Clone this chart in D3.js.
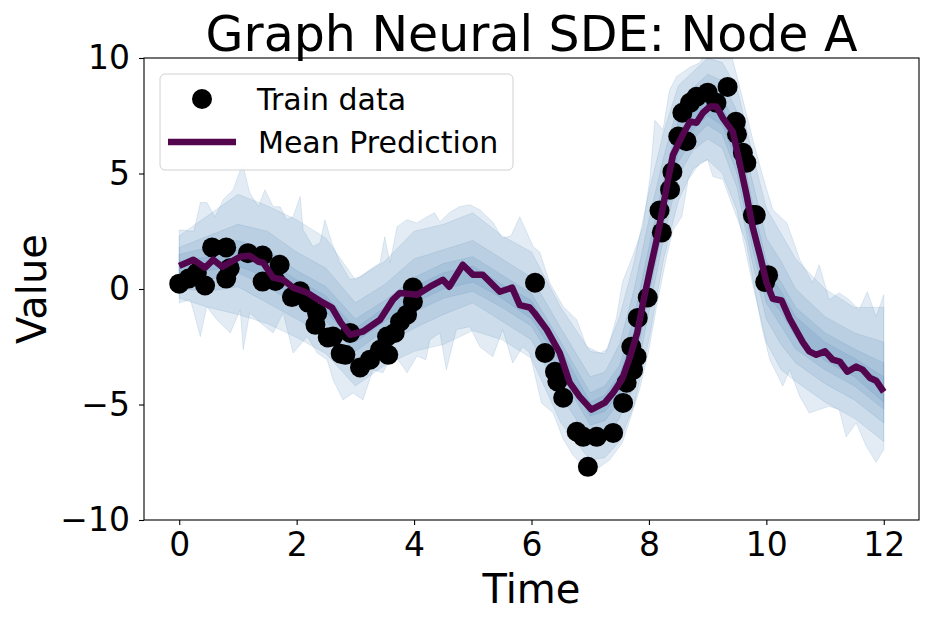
<!DOCTYPE html>
<html lang="en">
<head>
<meta charset="utf-8">
<title>Graph Neural SDE: Node A</title>
<script src="https://cdn.jsdelivr.net/npm/d3@7/dist/d3.min.js"></script>
<style>
  html, body { margin: 0; padding: 0; background: #fff; }
  #chart { width: 928px; height: 621px; }
  text { font-family: "DejaVu Sans", sans-serif; fill: #000; }
</style>
</head>
<body>
<div id="chart"></div>
<script>
// train observations (time, value)
var trainT = [0.0, 0.16, 0.3, 0.44, 0.56, 0.8, 0.8, 0.86, 1.17, 1.42, 1.42, 1.64, 1.71,
  1.92, 2.06, 2.2, 2.35, 2.32, 2.53, 2.62, 2.75, 2.83, 2.91, 3.08, 3.25, 3.42, 3.54, 3.56,
  3.67, 3.76, 3.88, 3.98, 3.98,
  6.06, 6.23, 6.4, 6.44, 6.54, 6.77, 6.88, 6.96, 7.11, 7.39, 7.56, 7.62, 7.7, 7.73, 7.79,
  7.81, 7.98,
  8.18, 8.22, 8.36, 8.4, 8.5, 8.57, 8.64, 8.7, 8.81, 9.0, 9.15, 9.34, 9.48, 9.5, 9.6, 9.66,
  9.77, 9.82, 9.98, 10.03];
var trainV = [0.23, 0.45, 0.7, 0.15, 1.8, 1.8, 0.45, 0.9, 1.55, 1.45, 0.32, 0.35, 1.05,
  -0.35, -0.1, -0.6, -1.05, -1.55, -2.1, -2.06, -2.8, -2.85, -1.9, -3.4, -3.06, -2.63, -2.06, -2.85,
  -1.9, -1.42, -1.11, -0.55, 0.06,
  0.27, -2.77, -3.58, -4.0, -4.71, -6.18, -6.4, -7.7, -6.4, -6.23, -4.93, -4.06, -2.5, -3.5, -2.93,
  -1.25, -0.37,
  3.4, 2.45, 4.3, 5.07, 6.6, 7.63, 6.4, 8.06, 8.32, 8.5, 8.06, 8.75, 7.24, 6.7, 5.9, 5.46,
  3.2, 3.2, 0.3, 0.6];

// mean prediction
var meanT = [0.0, 0.24, 0.44, 0.58, 0.73, 1.04, 1.2, 1.35, 1.43, 1.6, 1.77, 1.94, 2.18, 2.45,
  2.6, 2.75, 2.91, 3.13, 3.42, 3.64, 3.76, 4.05, 4.27, 4.49, 4.6, 4.83, 5.0, 5.17, 5.46, 5.67,
  5.8, 5.97, 6.05, 6.26, 6.48, 6.65, 6.82, 7.02, 7.25, 7.39, 7.54, 7.68, 7.8, 7.9, 8.02, 8.13,
  8.24, 8.33, 8.41, 8.56, 8.7, 8.81, 8.92, 9.04, 9.15, 9.26, 9.43, 9.55, 9.66, 9.77, 9.89,
  10.0, 10.11, 10.26, 10.4, 10.62, 10.73, 10.85, 11.0, 11.13, 11.25, 11.38, 11.53, 11.64,
  11.76, 11.87, 12.0];
var meanV = [1.0, 1.27, 0.92, 1.27, 0.96, 1.4, 1.44, 1.18, 1.14, 0.49, 0.4, 0.06, -0.16, -0.59,
  -0.8, -1.45, -1.98, -1.84, -1.33, -0.46, -0.17, -0.25, 0.1, 0.4, 0.1, 1.05, 0.62, 0.62, -0.12, 0.06,
  -0.7, -0.8, -1.04, -1.76, -2.76, -4.05, -4.66, -5.22, -4.92, -4.49, -3.92, -2.93, -1.9, -0.6, 0.84, 2.1,
  3.56, 4.8, 5.8, 6.6, 7.25, 7.2, 7.63, 7.9, 7.9, 7.4, 6.8, 5.4, 4.1, 2.65, 1.48,
  0.3, -0.42, -0.5, -1.3, -2.3, -2.7, -2.85, -2.7, -3.06, -3.14, -3.58, -3.36, -3.49,
  -3.84, -3.97, -4.45];

// outermost quantile band, upper and lower edges
var outerUpT = [0, 0.25, 0.36, 0.47, 0.61, 0.75, 0.92, 1.04, 1.09, 1.2, 1.35, 1.46, 1.6, 1.72,
  1.83, 1.94, 2.06, 2.11, 2.28, 2.4, 2.48, 2.6, 2.74, 2.91, 3.08, 3.25, 3.42, 3.5, 3.59, 3.71,
  3.88, 4.05, 4.22, 4.35, 4.44, 4.6, 4.77, 4.95, 5.12, 5.34, 5.5, 5.65, 5.8, 6.03, 6.14, 6.31,
  6.54, 6.77, 6.94, 7.17, 7.3, 7.45, 7.55, 7.72, 7.9, 8.02, 8.1, 8.24, 8.35, 8.47, 8.7, 8.87,
  8.98, 9.32, 9.43, 9.6, 9.77, 9.94, 10.11, 10.35, 10.57, 10.79, 10.9, 11.07, 11.24, 11.41,
  11.58, 11.72, 11.87, 12.0];
var outerUpV = [2.56, 2.5, 3.74, 3.74, 3.13, 3.87, 4.3, 5.16, 5.3, 4.17, 3.56, 4.3, 3.56, 3.56,
  3.0, 3.13, 4.0, 2.56, 1.83, 2.0, 3.0, 2.0, 1.13, 0.4, 0.53, 0.84, 1.13, 2.26, 1.13, 2.7,
  3.0, 2.86, 3.13, 3.3, 2.9, 3.3, 3.56, 3.65, 3.43, 2.9, 2.2, 2.3, 3.13, 1.83, 1.6, 0.27,
  -0.76, -1.33, -2.5, -2.77, -2.6, -1.2, 0.3, 1.4, 2.7, 4.86, 7.3, 6.9, 8.6, 9.2, 9.6, 9.8,
  10.4, 10.4, 9.9, 8.2, 6.46, 4.87, 3.43, 2.86, 1.27, 0.27, 1.05, -0.46, -0.17, -0.46,
  -0.9, -0.12, -1.2, -0.25];
var outerLoT = [0, 0.19, 0.36, 0.47, 0.64, 0.87, 1.04, 1.09, 1.2, 1.38, 1.6, 1.77, 1.94, 2.18,
  2.35, 2.52, 2.62, 2.79, 2.96, 3.13, 3.3, 3.47, 3.64, 3.81, 3.88, 4.05, 4.2, 4.27, 4.44, 4.55,
  4.72, 4.95, 5.12, 5.34, 5.51, 5.68, 5.85, 5.97, 6.17, 6.37, 6.54, 6.71, 6.88, 7.11, 7.33,
  7.55, 7.84, 8.0, 8.13, 8.3, 8.41, 8.56, 8.67, 8.87, 9.0, 9.09, 9.26, 9.43, 9.66, 9.8, 9.92,
  10.06, 10.28, 10.4, 10.57, 10.73, 10.9, 11.07, 11.24, 11.36, 11.53, 11.7, 11.87, 12.0];
var outerLoV = [-0.6, -0.46, -2.06, -0.76, -1.33, -1.9, -0.9, -2.63, -1.03, -1.46, -1.9, -1.03, -2.77, -2.06,
  -2.77, -3.06, -3.93, -4.8, -4.5, -4.8, -3.5, -3.63, -2.77, -3.36, -3.63, -2.9, -3.06, -2.2, -1.9, -3.5,
  -1.76, -1.63, -2.5, -2.93, -1.76, -3.2, -2.5, -2.77, -4.93, -5.37, -6.5, -7.2, -7.67, -7.8, -7.4,
  -6.65, -4.36, -2.63, -0.76, 1.4, 2.56, 3.13, 4.74, 5.46, 5.6, 4.87, 4.74, 3.56, 2.0, 0.0, -1.6,
  -3.06, -4.2, -3.5, -4.65, -5.37, -5.22, -5.08, -5.22, -6.4, -5.8, -6.8, -7.5, -6.95];

// inner quantile bands on a shared time grid
var bandT = [0, 0.5, 1, 1.5, 2, 2.5, 3, 3.5, 4, 4.5, 5, 5.5, 6, 6.5, 7, 7.25, 7.5, 7.75, 8,
  8.25, 8.5, 8.75, 9, 9.25, 9.5, 9.75, 10, 10.25, 10.5, 11, 11.5, 12];
var band2Up = [2.3, 3.2, 4.1, 3.6, 3.0, 2.2, 0.4, 1.2, 2.5, 2.8, 3.3, 2.3, 1.6, -0.8, -2.7, -2.8,
  -1.2, 1.2, 4.2, 6.8, 8.8, 9.4, 10.0, 9.8, 8.7, 6.0, 3.5, 2.4, 1.3, 0.0, -0.8, -0.8];
var band2Lo = [-0.4, -0.8, -1.1, -1.5, -2.1, -2.8, -4.2, -3.3, -2.7, -2.4, -1.8, -2.2, -3.0, -5.8, -7.4, -7.3,
  -6.6, -5.0, -2.2, 1.3, 3.8, 5.2, 5.6, 5.0, 3.4, 0.4, -2.3, -3.5, -4.0, -4.9, -5.6, -6.6];
var band3Up = [1.8, 2.3, 2.8, 2.5, 1.6, 0.9, -0.6, 0.2, 1.3, 1.7, 2.1, 1.3, 0.5, -1.7, -3.8, -3.6,
  -2.4, 0.0, 3.0, 5.7, 8.0, 8.7, 9.3, 9.0, 7.7, 4.8, 2.2, 1.2, 0.0, -1.2, -1.9, -2.3];
var band3Lo = [0.0, -0.1, 0.1, -0.6, -1.3, -2.0, -3.3, -2.4, -1.7, -1.1, -0.6, -1.4, -2.2, -4.6, -6.6, -6.5,
  -5.6, -4.2, -1.0, 2.2, 4.9, 6.0, 6.5, 6.1, 4.4, 1.3, -1.3, -2.4, -3.2, -4.1, -4.8, -5.8];
var band4Up = [1.5, 1.8, 2.1, 1.7, 0.8, 0.1, -1.3, -0.5, 0.5, 1.1, 1.4, 0.6, -0.2, -2.3, -4.5, -4.2,
  -3.3, -1.2, 1.8, 4.7, 7.3, 8.1, 8.7, 8.3, 7.0, 3.9, 1.2, 0.3, -0.8, -1.9, -2.6, -3.2];
var band4Lo = [0.4, 0.4, 0.7, 0.1, -0.7, -1.4, -2.7, -1.8, -1.0, -0.4, -0.1, -0.8, -1.6, -3.7, -5.9, -5.7,
  -4.9, -3.4, -0.3, 2.8, 5.5, 6.5, 7.1, 6.7, 5.0, 1.9, -0.6, -1.6, -2.6, -3.5, -4.2, -5.2];
var band5Up = [1.2, 1.4, 1.7, 1.2, 0.4, -0.3, -1.7, -0.8, 0.1, 0.7, 1.0, 0.2, -0.5, -2.6, -4.9, -4.6,
  -3.7, -1.8, 1.2, 4.2, 6.8, 7.6, 8.2, 7.9, 6.5, 3.4, 0.8, -0.1, -1.2, -2.3, -3.0, -3.8];
var band5Lo = [0.7, 0.8, 1.0, 0.5, -0.4, -1.0, -2.3, -1.4, -0.6, 0.0, 0.3, -0.4, -1.3, -3.2, -5.5, -5.3,
  -4.5, -2.9, 0.1, 3.2, 5.9, 6.9, 7.5, 7.1, 5.5, 2.4, -0.2, -1.0, -2.1, -3.1, -3.8, -4.9];

var xTicks = [0, 2, 4, 6, 8, 10, 12];
var yTicks = [-10, -5, 0, 5, 10];

var W = 928, H = 621;
var plot = { left: 144, right: 919, top: 58, bottom: 520 };

var svg = d3.select("#chart").append("svg")
    .attr("width", W)
    .attr("height", H);

var x = d3.scaleLinear().domain([-0.6, 12.6]).range([plot.left, plot.right]);
var y = d3.scaleLinear().domain([-10, 10]).range([plot.bottom, plot.top]);

svg.append("clipPath").attr("id", "clip")
  .append("rect")
    .attr("x", plot.left).attr("y", plot.top)
    .attr("width", plot.right - plot.left)
    .attr("height", plot.bottom - plot.top);

var g = svg.append("g").attr("clip-path", "url(#clip)");

var bandColor = "#4682b4";

// outer band as a closed polygon (edges were sampled at different times)
var outerPts = outerUpT.map(function(t, i) { return [x(t), y(outerUpV[i])]; })
  .concat(outerLoT.map(function(t, i) { return [x(t), y(outerLoV[i])]; }).reverse());
g.append("path")
    .attr("d", d3.line()(outerPts) + "Z")
    .attr("fill", bandColor)
    .attr("fill-opacity", 0.15)
    .attr("stroke", bandColor)
    .attr("stroke-opacity", 0.15)
    .attr("stroke-width", 1);

var inner = [[band2Up, band2Lo], [band3Up, band3Lo], [band4Up, band4Lo], [band5Up, band5Lo]];
inner.forEach(function(b) {
    var area = d3.area()
        .x(function(d, i) { return x(bandT[i]); })
        .y0(function(d, i) { return y(b[1][i]); })
        .y1(function(d, i) { return y(b[0][i]); });
    g.append("path")
        .attr("d", area(bandT))
        .attr("fill", bandColor)
        .attr("fill-opacity", 0.14)
        .attr("stroke", bandColor)
        .attr("stroke-opacity", 0.14)
        .attr("stroke-width", 1);
});

// train data
g.selectAll("circle.train")
    .data(trainT)
  .enter().append("circle")
    .attr("class", "train")
    .attr("cx", function(d) { return x(d); })
    .attr("cy", function(d, i) { return y(trainV[i]); })
    .attr("r", 10)
    .attr("fill", "#000");

// mean prediction
var lineColor = "#53064e";
g.append("path")
    .attr("d", d3.line()
        .x(function(d) { return x(d); })
        .y(function(d, i) { return y(meanV[i]); })(meanT))
    .attr("fill", "none")
    .attr("stroke", lineColor)
    .attr("stroke-width", 6.5)
    .attr("stroke-linejoin", "round");

// axes
var xAxis = d3.axisBottom(x).tickValues(xTicks).tickSize(5).tickSizeOuter(0).tickPadding(8)
    .tickFormat(d3.format("d"));
var yAxis = d3.axisLeft(y).tickValues(yTicks).tickSize(5).tickSizeOuter(0).tickPadding(9)
    .tickFormat(function(d) { return d < 0 ? "\u2212" + Math.abs(d) : d; });

svg.append("g")
    .attr("transform", "translate(0," + plot.bottom + ")")
    .call(xAxis)
    .call(function(a) { a.select(".domain").remove(); })
    .selectAll("text").style("font-size", "33px").style("font-family", "DejaVu Sans");

svg.append("g")
    .attr("transform", "translate(" + plot.left + ",0)")
    .call(yAxis)
    .call(function(a) { a.select(".domain").remove(); })
    .selectAll("text").style("font-size", "33px").style("font-family", "DejaVu Sans");

svg.selectAll(".tick line").attr("stroke", "#000").attr("stroke-width", 1.1);

svg.append("rect")
    .attr("x", plot.left).attr("y", plot.top)
    .attr("width", plot.right - plot.left)
    .attr("height", plot.bottom - plot.top)
    .attr("fill", "none")
    .attr("stroke", "#000")
    .attr("stroke-width", 1.1);

// labels
svg.append("text")
    .attr("x", (plot.left + plot.right) / 2).attr("y", 51)
    .attr("text-anchor", "middle")
    .style("font-size", "49px")
    .text("Graph Neural SDE: Node A");

svg.append("text")
    .attr("x", (plot.left + plot.right) / 2).attr("y", 603)
    .attr("text-anchor", "middle")
    .style("font-size", "40px")
    .text("Time");

svg.append("text")
    .attr("transform", "translate(46," + ((plot.top + plot.bottom) / 2) + ") rotate(-90)")
    .attr("text-anchor", "middle")
    .style("font-size", "40px")
    .text("Value");

// legend
var lg = svg.append("g");
lg.append("rect")
    .attr("x", 160).attr("y", 74).attr("width", 353).attr("height", 96)
    .attr("rx", 5)
    .attr("fill", "#fff").attr("fill-opacity", 0.8)
    .attr("stroke", "#d0d0d0").attr("stroke-width", 1);
lg.append("circle").attr("cx", 202).attr("cy", 99).attr("r", 10).attr("fill", "#000");
lg.append("text").attr("x", 257).attr("y", 110).style("font-size", "30px").text("Train data");
lg.append("line").attr("x1", 168).attr("x2", 236).attr("y1", 142).attr("y2", 142)
    .attr("stroke", lineColor).attr("stroke-width", 6.5);
lg.append("text").attr("x", 258).attr("y", 153).style("font-size", "30px").text("Mean Prediction");
</script>
</body>
</html>
